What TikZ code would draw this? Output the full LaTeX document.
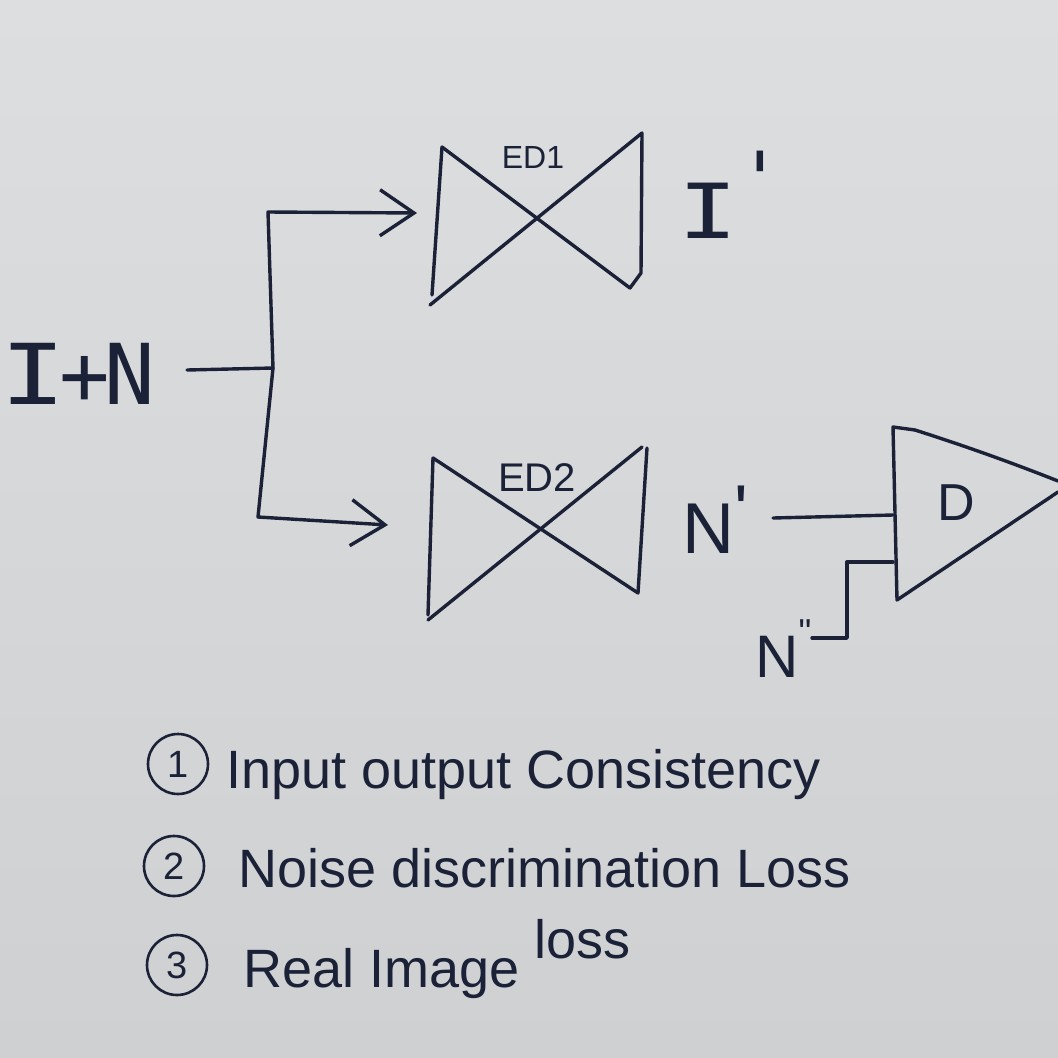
\documentclass[tikz,border=0pt]{standalone}
\usepackage{fontspec}
\setmainfont{Liberation Sans}
\newfontfamily\monoI{DejaVu Sans Mono}
\usetikzlibrary{arrows.meta}
\definecolor{ink}{HTML}{1B2238}
\definecolor{bgtop}{HTML}{DDDEE0}
\definecolor{bgbot}{HTML}{CFD0D2}
\newcommand{\fsz}[1]{\fontsize{#1}{#1}\selectfont}
\begin{document}
\begin{tikzpicture}[x=1pt,y=-1pt,
  inkline/.style={draw=ink,line width=3.4pt,line cap=round,line join=round},
  barb/.style={-{Straight Barb[length=34pt,width=46pt,line width=3.4pt]}},
  lbl/.style={text=ink,inner sep=0pt},
  numcirc/.style={circle,draw=ink,line width=2.6pt,minimum size=60pt,inner sep=0pt,text=ink,font=\fsz{38}}]
\shade[top color=bgtop,bottom color=bgbot] (0,0) rectangle (1058,1058);
\useasboundingbox (0,0) rectangle (1058,1058);

% input label and branching connectors
\node[lbl,font=\monoI\fsz{84},anchor=base west] (IN) at (0,404) {\scalebox{1.3}[1]{I}\hspace{-6pt}+\hspace{-6pt}N};
\coordinate (INout) at (187,370);
\coordinate (J) at (273,368);
\coordinate (T) at (268,212);
\coordinate (B) at (258,517);
\coordinate (ED1in) at (417,213);
\coordinate (ED2in) at (388,525);
\draw[inkline] (INout) -- (J);
\draw[inkline,barb] (J) -- (T) -- (ED1in);
\draw[inkline,barb] (J) -- (B) -- (ED2in);

% ED1 bow-tie
\draw[inkline] (442,147) -- (432,295);
\draw[inkline] (442,147) -- (630,288) -- (641,273) -- (642,133) -- (430,305);
\node[lbl,font=\fsz{32}] (ED1) at (533,157) {ED1};
\node[lbl,font=\monoI\fsz{76},anchor=base west] (Ip) at (678,238) {\scalebox{1.3}[1]{I}\raisebox{32pt}{\textquotesingle}};

% ED2 bow-tie
\draw[inkline] (433,458) -- (428,615);
\draw[inkline] (433,458) -- (638,593) -- (647,448);
\draw[inkline] (428,620) -- (642,447);
\node[lbl,font=\fsz{40}] (ED2) at (537,478) {ED2};
\node[lbl,font=\fsz{72},anchor=base west] (Np) at (682,553) {N\raisebox{18pt}{\textquotesingle}};

% discriminator
\draw[inkline] (915,430) -- (893,427) -- (897,600) -- (1058,492);
\draw[inkline] (915,430) .. controls (965,446) and (1010,462) .. (1058,481);
\node[lbl,font=\fsz{52}] (D) at (956,503) {D};

\coordinate (Npout) at (773,518);
\coordinate (Din1) at (893,515);
\draw[inkline] (Npout) -- (Din1);

\node[lbl,font=\fsz{60},anchor=base west] (Npp) at (755,677) {N\raisebox{33pt}{\fsz{36}\textquotedbl}};
\coordinate (Nppout) at (812,638);
\coordinate (Din2) at (893,562);
\draw[inkline] (Nppout) -- (847,638) -- (847,562) -- (Din2);

% legend
\node[numcirc] (c1) at (178,764) {1};
\node[numcirc] (c2) at (174,866) {2};
\node[numcirc] (c3) at (177,965) {3};
\node[lbl,font=\fsz{54},anchor=base west] (t1) at (226,788) {Input output Consistency};
\node[lbl,font=\fsz{54},anchor=base west] (t2) at (238,887) {Noise discrimination Loss};
\node[lbl,font=\fsz{54},anchor=base west] (t3) at (243,987) {Real Image \raisebox{29pt}{loss}};
\end{tikzpicture}
\end{document}
